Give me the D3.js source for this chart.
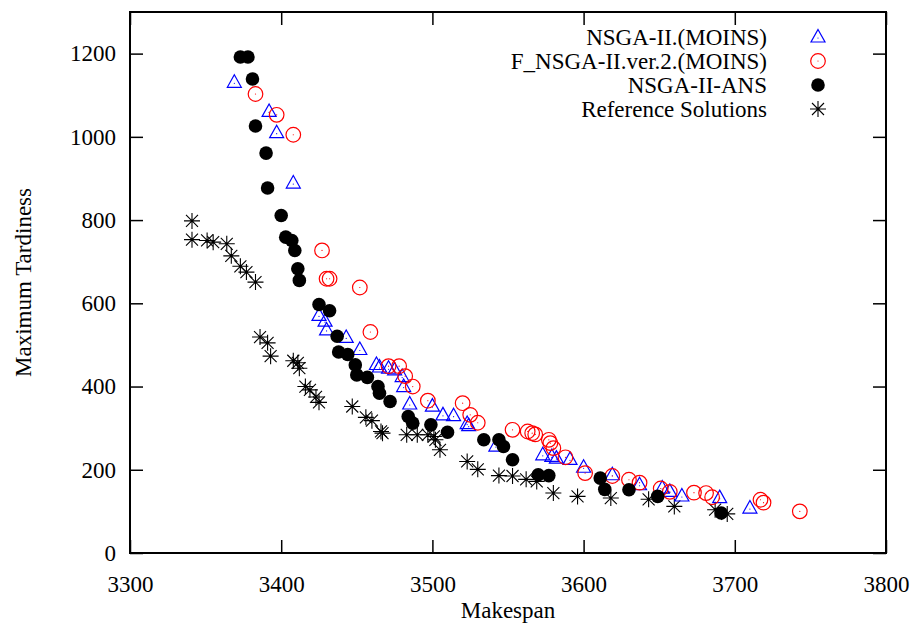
<!DOCTYPE html>
<html>
<head>
<meta charset="utf-8">
<script src="https://cdn.jsdelivr.net/npm/d3@7"></script>
<style>
body { margin: 0; background: #fff; }
svg text { font-family: "Liberation Serif", "Times New Roman", serif; }
</style>
</head>
<body>
<svg id="chart" width="910" height="628"></svg>
<script>
// series, [makespan, max tardiness]
var moinsPts = [[3369,1131],[3392,1061],[3397,1010],[3408,889],[3425,571],[3429,557],[3430,536],[3443,518],
  [3452,489],[3463,453],[3465,447],[3471,444],[3475,440],[3480,424],[3481,400],[3485,358],[3500,353],
  [3507,332],[3514,330],[3523,311],[3524,306],[3542,257],[3573,236],[3579,232],[3582,228],[3591,225],
  [3600,206],[3619,188],[3637,164],[3652,156],[3657,148],[3665,137],[3690,133],[3710,108]];
var fnsgaPts = [[3383,1103],[3397,1053],[3408,1005],[3427,727],[3430,659],[3432,659],[3452,638],[3459,531],
  [3471,449],[3478,449],[3482,425],[3487,400],[3497,366],[3520,360],[3525,332],[3530,313],[3553,296],
  [3563,292],[3566,288],[3568,285],[3577,272],[3578,264],[3580,252],[3588,230],[3601,192],[3619,185],
  [3630,176],[3637,169],[3651,155],[3657,147],[3673,145],[3681,144],[3685,134],[3717,128],[3719,121],[3743,100]];
var ansPts = [[3373,1192],[3378,1192],[3381,1139],[3383,1026],[3390,961],[3391,877],[3400,811],[3403,759],
  [3407,751],[3409,727],[3411,683],[3412,655],[3425,597],[3432,582],[3437,521],[3438,483],[3444,477],
  [3449,452],[3450,428],[3457,422],[3464,400],[3465,384],[3472,364],[3484,328],[3487,312],[3499,308],
  [3510,290],[3534,272],[3544,272],[3547,256],[3553,224],[3570,188],[3577,186],[3611,180],[3614,153],
  [3630,152],[3649,136],[3691,96]];
var refPts = [[3341,798],[3341,753],[3351,751],[3355,747],[3364,743],[3367,714],[3373,689],[3377,675],
  [3383,651],[3386,519],[3391,505],[3393,473],[3408,462],[3411,457],[3412,444],[3416,400],[3419,392],
  [3423,375],[3425,362],[3447,352],[3456,326],[3460,318],[3466,292],[3467,288],[3483,284],[3490,284],
  [3497,284],[3501,280],[3502,272],[3505,248],[3523,220],[3530,201],[3544,186],[3553,185],[3562,177],
  [3569,172],[3580,144],[3596,136],[3618,132],[3643,129],[3660,112],[3687,104],[3695,94]];

var xTicks = [3300,3400,3500,3600,3700,3800];
var yTicks = [0,200,400,600,800,1000,1200];
var seriesNames = ["NSGA-II.(MOINS)","F_NSGA-II.ver.2.(MOINS)","NSGA-II-ANS","Reference Solutions"];

var L = 130, R = 886, T = 12, B = 553;
var FONT = "'Liberation Serif', 'Times New Roman', serif";
var svg = d3.select("#chart");
var x = d3.scaleLinear().domain([3300,3800]).range([L,R]);
var y = d3.scaleLinear().domain([0,1300]).range([B,T]);
var tk = 13;

function styleAxis(g){
  g.attr("font-family",FONT);
  g.select(".domain").remove();
  g.selectAll(".tick line").attr("stroke","#000").attr("stroke-width",1.5);
  g.selectAll("text").attr("font-size",23).attr("fill","#000").style("font-family",FONT);
}

svg.append("g").attr("transform","translate(0,"+B+")")
  .call(d3.axisBottom(x).tickValues(xTicks).tickSize(-tk).tickPadding(tk+10).tickFormat(d3.format("d")))
  .call(styleAxis);
svg.append("g").attr("transform","translate(0,"+T+")")
  .call(d3.axisTop(x).tickValues(xTicks).tickSize(-tk).tickFormat(""))
  .call(styleAxis);
svg.append("g").attr("transform","translate("+L+",0)")
  .call(d3.axisLeft(y).tickValues(yTicks).tickSize(-tk).tickPadding(tk+1).tickFormat(d3.format("d")))
  .call(styleAxis);
svg.append("g").attr("transform","translate("+R+",0)")
  .call(d3.axisRight(y).tickValues(yTicks).tickSize(-tk).tickFormat(""))
  .call(styleAxis);

svg.append("rect").attr("x",L).attr("y",T).attr("width",R-L).attr("height",B-T)
  .attr("fill","none").attr("stroke","#000").attr("stroke-width",2);

svg.append("text").attr("x",(L+R)/2).attr("y",618).attr("text-anchor","middle")
  .attr("font-size",23).text("Makespan");
svg.append("text").attr("transform","translate(31,"+((T+B)/2)+") rotate(-90)")
  .attr("text-anchor","middle").attr("font-size",23).text("Maximum Tardiness");

// marker painters
function triangle(g){
  g.append("path").attr("d","M0,-7.5L7,5L-7,5Z").attr("fill","none").attr("stroke","#0000ff").attr("stroke-width",1.2);
  g.append("circle").attr("r",0.6).attr("cy",1).attr("fill","#0000ff");
}
function ring(g){
  g.append("circle").attr("r",7.3).attr("fill","none").attr("stroke","#ff0000").attr("stroke-width",1.2);
  g.append("circle").attr("r",0.6).attr("fill","#ff0000");
}
function dot(g){
  g.append("circle").attr("r",6.8).attr("fill","#000");
}
function star(g){
  g.append("path").attr("d","M-8,0L8,0M0,-8L0,8M-6,-6L6,6M-6,6L6,-6")
    .attr("stroke","#000").attr("stroke-width",1.1).attr("fill","none");
}

function plot(pts, painter){
  svg.append("g").selectAll("g").data(pts).join("g")
    .attr("transform",function(d){ return "translate("+x(d[0])+","+y(d[1])+")"; })
    .each(function(){ painter(d3.select(this)); });
}
plot(refPts, star);
plot(moinsPts, triangle);
plot(fnsgaPts, ring);
plot(ansPts, dot);

// legend
var painters = [triangle, ring, dot, star];
var leg = svg.append("g");
seriesNames.forEach(function(name,i){
  var cy = 37 + i*24;
  leg.append("text").attr("x",767).attr("y",cy+8).attr("text-anchor","end")
    .attr("font-size",23).text(name);
  painters[i](leg.append("g").attr("transform","translate(818,"+cy+")"));
});
</script>
</body>
</html>
